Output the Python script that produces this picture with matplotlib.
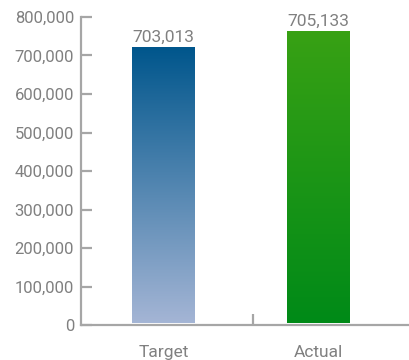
import numpy as np
import matplotlib.pyplot as plt
from matplotlib.colors import LinearSegmentedColormap
from matplotlib.ticker import FuncFormatter

categories = ['Target', 'Actual']
bar_heights = [722000, 763000]          # as drawn in the picture
value_labels = ['703,013', '705,133']   # labels shown above bars
y_ticks = [0, 100000, 200000, 300000, 400000, 500000, 600000, 700000, 800000]

grad_colors = [('#a4b5d5', '#00568c'), ('#008a18', '#38a114')]  # bottom, top

plt.rcParams['font.family'] = ['Roboto', 'DejaVu Sans']
gray_txt = '#808080'
gray_ax = '#a6a6a6'

fig = plt.figure(figsize=(4.09, 3.60), dpi=100)
ax = fig.add_axes([0.198, 0.096, 0.802, 0.857])

x = np.arange(len(categories))
width = 0.406
base = 7000
bars = ax.bar(x, np.array(bar_heights) - base, bottom=base, width=width, color='none')

for b, (c0, c1), lab in zip(bars, grad_colors, value_labels):
    x0, y0 = b.get_x(), b.get_y()
    w, h = b.get_width(), b.get_height()
    cmap = LinearSegmentedColormap.from_list('g', [c0, c1])
    grad = np.linspace(0, 1, 256).reshape(-1, 1)
    ax.imshow(grad, cmap=cmap, origin='lower', aspect='auto',
              extent=[x0, x0 + w, y0, y0 + h], zorder=2)
    ax.text(x0 + w / 2, y0 + h + 6000, lab, ha='center', va='bottom',
            fontsize=12.5, color=gray_txt)

ax.set_xlim(-0.532, 1.584)
ax.set_ylim(0, 800000)
ax.set_yticks(y_ticks)
ax.yaxis.set_major_formatter(FuncFormatter(lambda v, p: f'{int(v):,}'))
ax.set_xticks(x)
ax.set_xticklabels(categories)
ax.set_xticks([0.577], minor=True)

for s in ['top', 'right']:
    ax.spines[s].set_visible(False)
for s in ['left', 'bottom']:
    ax.spines[s].set_color(gray_ax)
    ax.spines[s].set_linewidth(1.6)

ax.tick_params(axis='y', direction='in', length=8, width=1.6, color=gray_ax,
               labelcolor=gray_txt, labelsize=12, pad=5)
ax.tick_params(axis='x', which='major', length=0, labelcolor=gray_txt,
               labelsize=12.5, pad=14)
ax.tick_params(axis='x', which='minor', direction='in', length=8, width=1.6,
               color=gray_ax)

fig.savefig('out.png', dpi=100)
